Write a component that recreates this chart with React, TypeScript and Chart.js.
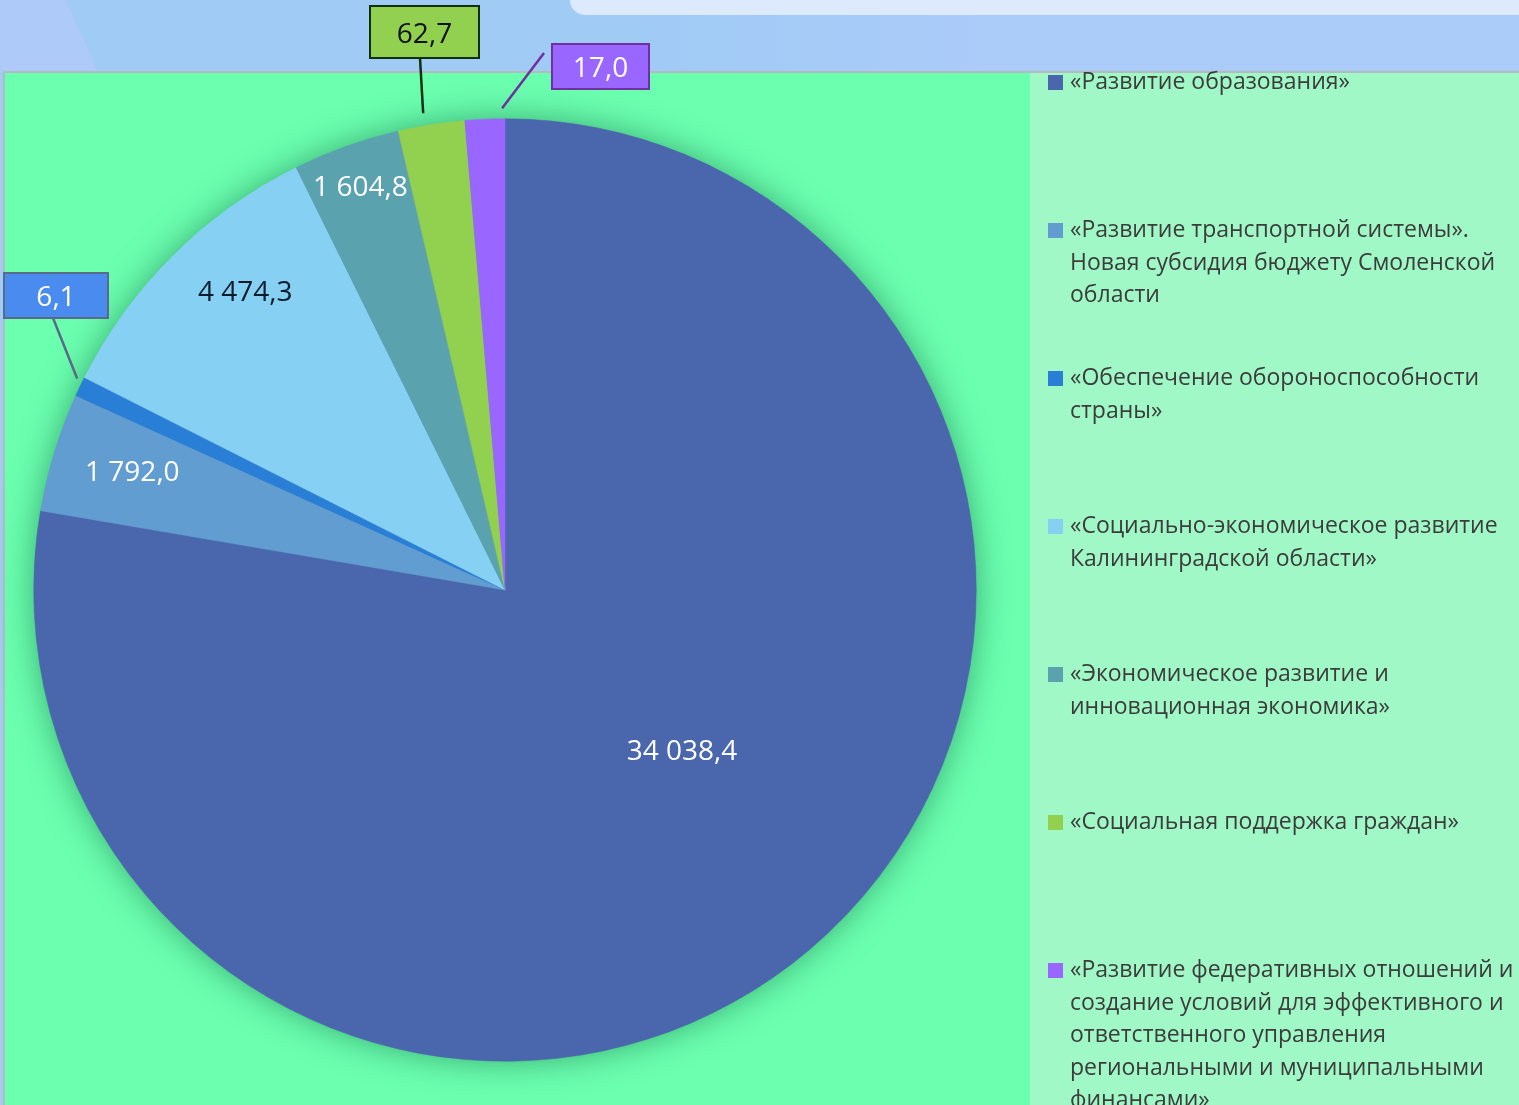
import React, { useEffect, useRef } from "react";
import { Chart, registerables } from "chart.js";

Chart.register(...registerables);

// ---------- data ----------
const categories: string[] = [
  "«Развитие образования»",
  "«Развитие транспортной системы». Новая субсидия бюджету Смоленской области",
  "«Обеспечение обороноспособности страны»",
  "«Социально-экономическое развитие Калининградской области»",
  "«Экономическое развитие и инновационная экономика»",
  "«Социальная поддержка граждан»",
  "«Развитие федеративных отношений и создание условий для эффективного и ответственного управления региональными и муниципальными финансами»",
];

// legend text, wrapped as in the picture
const legendLines: string[][] = [
  ["«Развитие образования»"],
  ["«Развитие транспортной системы».", "Новая субсидия бюджету Смоленской", "области"],
  ["«Обеспечение обороноспособности", "страны»"],
  ["«Социально-экономическое развитие", "Калининградской области»"],
  ["«Экономическое развитие и", "инновационная экономика»"],
  ["«Социальная поддержка граждан»"],
  [
    "«Развитие федеративных отношений и",
    "создание условий для эффективного и",
    "ответственного управления",
    "региональными и муниципальными",
    "финансами»",
  ],
];

// printed values (labels)
const values: number[] = [34038.4, 1792.0, 6.1, 4474.3, 1604.8, 62.7, 17.0];

// slice shares (% of the circle) as drawn in the picture
const sliceShares: number[] = [77.7, 4.08, 0.67, 10.25, 3.67, 2.28, 1.36];

const colors: string[] = ["#4a66ac", "#629dd1", "#297fd5", "#86d1f3", "#5aa2ae", "#92d050", "#9966ff"];

// ---------- styles ----------
const FONT = '"Open Sans", "Noto Sans", sans-serif';

type InLabel = { kind: "in"; angDelta: number; rFrac: number; color: string };
type OutLabel = {
  kind: "out";
  cx: number; cy: number; w: number; h: number;
  fill: string; border: string; color: string;
  lx: number; ly: number; anchorFrac: number; anchorExtra: number;
};
const labelStyles: (InLabel | OutLabel)[] = [
  { kind: "in", angDelta: -7.75, rFrac: 0.506, color: "#ffffff" },
  { kind: "in", angDelta: 0.65, rFrac: 0.83, color: "#ffffff" },
  { kind: "out", cx: 56, cy: 295.5, w: 104, h: 45, fill: "#4a8bef", border: "#5b6b87", color: "#ffffff", lx: 53, ly: 318, anchorFrac: 0.8, anchorExtra: 6 },
  { kind: "in", angDelta: 3.75, rFrac: 0.84, color: "#0d1b2a" },
  { kind: "in", angDelta: 0, rFrac: 0.91, color: "#ffffff" },
  { kind: "out", cx: 424.5, cy: 32, w: 109, h: 52, fill: "#92d050", border: "#0f2f10", color: "#111111", lx: 420, ly: 58, anchorFrac: 0.41, anchorExtra: 12.5 },
  { kind: "out", cx: 600.5, cy: 66.5, w: 97, h: 45, fill: "#9966ff", border: "#7030a0", color: "#ffffff", lx: 544, ly: 53, anchorFrac: 0.93, anchorExtra: 10.5 },
];

function fmt(v: number): string {
  const [i, d] = v.toFixed(1).split(".");
  const grouped = i.replace(/\B(?=(\d{3})+(?!\d))/g, " ");
  return grouped + "," + d;
}

const W = 1519;
const H = 1105;

const backgroundPlugin = {
  id: "bg",
  beforeDraw(chart: any) {
    const ctx: CanvasRenderingContext2D = chart.ctx;
    ctx.save();
    // top blue area
    const g = ctx.createLinearGradient(0, 0, W, 0);
    g.addColorStop(0, "#9fcbf5");
    g.addColorStop(0.4, "#9fcbf5");
    g.addColorStop(0.65, "#abcbf9");
    g.addColorStop(1, "#abcbf9");
    ctx.fillStyle = g;
    ctx.fillRect(0, 0, W, H);
    // left lavender band
    ctx.fillStyle = "#aecaf8";
    ctx.beginPath();
    ctx.moveTo(0, 0);
    ctx.lineTo(66, 0);
    ctx.lineTo(98, 72);
    ctx.lineTo(0, 72);
    ctx.closePath();
    ctx.fill();
    // top-right light panel
    ctx.fillStyle = "#dde9fd";
    ctx.beginPath();
    ctx.moveTo(570, -20);
    ctx.lineTo(W + 20, -20);
    ctx.lineTo(W + 20, 15);
    ctx.lineTo(585, 15);
    ctx.arcTo(570, 15, 570, 0, 15);
    ctx.closePath();
    ctx.fill();
    // frame border
    ctx.fillStyle = "#b3bcbc";
    ctx.fillRect(3, 71, W, 2);
    ctx.fillRect(3, 71, 2, H);
    // plot area
    ctx.fillStyle = "#6bffb0";
    ctx.fillRect(5, 73, 1025, H);
    // legend area
    ctx.fillStyle = "#a0f8c6";
    ctx.fillRect(1030, 73, W - 1030, H);
    ctx.restore();
  },
  beforeDatasetsDraw(chart: any) {
    const meta = chart.getDatasetMeta(0);
    const arc = meta.data[0];
    if (!arc) return;
    const { x, y, outerRadius } = arc.getProps(["x", "y", "outerRadius"], true);
    const ctx: CanvasRenderingContext2D = chart.ctx;
    ctx.save();
    ctx.beginPath();
    ctx.arc(x, y, outerRadius - 1, 0, Math.PI * 2);
    ctx.shadowColor = "rgba(0,80,45,0.5)";
    ctx.shadowBlur = 34;
    ctx.fillStyle = colors[0];
    ctx.fill();
    ctx.restore();
  },
};

const labelsPlugin = {
  id: "labels",
  afterDatasetsDraw(chart: any) {
    const ctx: CanvasRenderingContext2D = chart.ctx;
    const meta = chart.getDatasetMeta(0);
    ctx.save();
    meta.data.forEach((el: any, i: number) => {
      const p = el.getProps(["x", "y", "startAngle", "endAngle", "outerRadius"], true);
      const st = labelStyles[i];
      const text = fmt(values[i]);
      if (st.kind === "in") {
        const a = (p.startAngle + p.endAngle) / 2 + (st.angDelta * Math.PI) / 180;
        const r = p.outerRadius * st.rFrac;
        const tx = p.x + r * Math.cos(a);
        const ty = p.y + r * Math.sin(a);
        ctx.font = `28px ${FONT}`;
        ctx.fillStyle = st.color;
        ctx.textAlign = "center";
        ctx.textBaseline = "middle";
        ctx.fillText(text, tx, ty + 2);
      } else {
        const a = p.startAngle + (p.endAngle - p.startAngle) * st.anchorFrac;
        const r = p.outerRadius + st.anchorExtra;
        const ax = p.x + r * Math.cos(a);
        const ay = p.y + r * Math.sin(a);
        ctx.strokeStyle = st.border;
        ctx.lineWidth = 2.5;
        ctx.beginPath();
        ctx.moveTo(st.lx, st.ly);
        ctx.lineTo(ax, ay);
        ctx.stroke();
        ctx.fillStyle = st.fill;
        ctx.fillRect(st.cx - st.w / 2, st.cy - st.h / 2, st.w, st.h);
        ctx.lineWidth = 2;
        ctx.strokeRect(st.cx - st.w / 2, st.cy - st.h / 2, st.w, st.h);
        ctx.font = `28px ${FONT}`;
        ctx.fillStyle = st.color;
        ctx.textAlign = "center";
        ctx.textBaseline = "middle";
        ctx.fillText(text, st.cx, st.cy + 3);
      }
    });

    // legend
    ctx.font = `23px ${FONT}`;
    ctx.textAlign = "left";
    ctx.textBaseline = "alphabetic";
    legendLines.forEach((lines, i) => {
      const base = 89 + 148 * i;
      ctx.fillStyle = colors[i];
      ctx.fillRect(1048, base - 14, 15, 15);
      ctx.fillStyle = "#3c3c3c";
      lines.forEach((ln, j) => {
        ctx.fillText(ln, 1070, base + 32.5 * j);
      });
    });
    ctx.restore();
  },
};

export default function App() {
  const ref = useRef<HTMLCanvasElement | null>(null);
  useEffect(() => {
    document.body.style.margin = "0";
    const canvas = ref.current;
    if (!canvas) return;
    const chart = new Chart(canvas, {
      type: "pie",
      data: {
        labels: categories,
        datasets: [
          {
            data: sliceShares,
            backgroundColor: colors,
            borderColor: colors,
            borderWidth: 0.5,
            hoverOffset: 0,
          },
        ],
      },
      options: {
        responsive: false,
        animation: false,
        devicePixelRatio: 1,
        layout: { padding: { left: 33.5, right: 542.5, top: 118.5, bottom: 43.5 } },
        plugins: { legend: { display: false }, tooltip: { enabled: false } },
        events: [],
      },
      plugins: [backgroundPlugin, labelsPlugin],
    } as any);
    return () => chart.destroy();
  }, []);
  return (
    <div style={{ width: W, height: H, overflow: "hidden" }}>
      <canvas ref={ref} width={W} height={H} style={{ display: "block", width: W, height: H }} />
    </div>
  );
}
